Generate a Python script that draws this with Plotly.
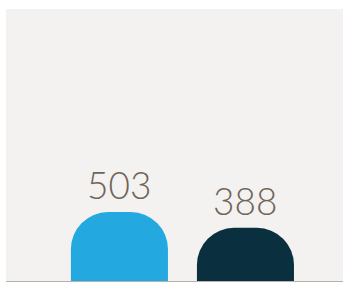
import plotly.graph_objects as go

categories = ["A", "B"]
values = [503, 388]
colors = ["#23a8e0", "#0a3040"]
labels = [str(v) for v in values]

fig = go.Figure()
fig.add_trace(go.Bar(
    x=[0, 1], y=values,
    marker=dict(color=colors, cornerradius=37, line=dict(width=0)),
    width=0.77,
    hoverinfo="skip",
))
for i, (v, t) in enumerate(zip(values, labels)):
    fig.add_annotation(x=i, y=v, text=t, showarrow=False, yanchor="bottom",
                       yshift=3,
                       font=dict(family="Lato", size=37, color="#6f655a", weight=300))

fig.update_layout(
    width=343, height=282,
    margin=dict(l=6, r=0, t=9, b=1),
    paper_bgcolor="#ffffff",
    plot_bgcolor="#f4f2f0",
    showlegend=False,
    xaxis=dict(range=[-0.9, 1.774], showticklabels=False, showgrid=False,
               zeroline=False, showline=True, linecolor="#b8b2ac", linewidth=1),
    yaxis=dict(range=[0, 1985], showticklabels=False, showgrid=False,
               zeroline=False),
)
fig.write_html("out.html", config={"displayModeBar": False},
               post_script="document.body.style.margin='0';document.body.style.overflow='hidden';")
